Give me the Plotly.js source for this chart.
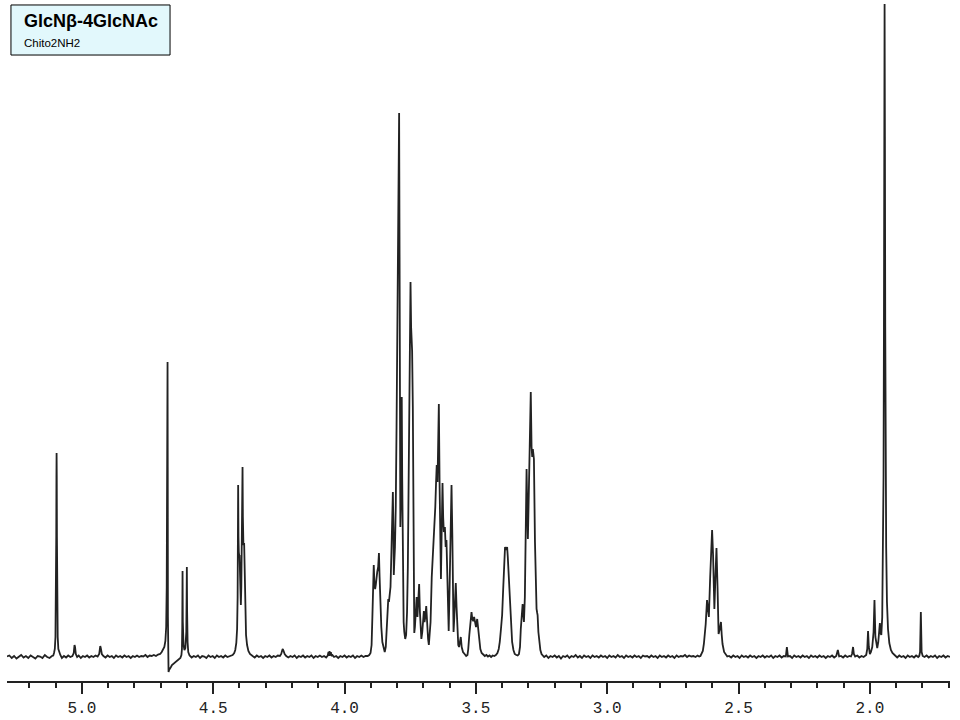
<!DOCTYPE html>
<html>
<head>
<meta charset="utf-8">
<script src="https://cdn.plot.ly/plotly-3.0.1.min.js"></script>
<style>
  html, body { margin: 0; padding: 0; background: #fff; }
  #chart { width: 960px; height: 720px; }
</style>
</head>
<body>
<div id="chart"></div>
<script>
// trace, [shift (ppm), intensity above baseline]
// intensity unit: roughly one pixel of the original plot

const anomericRegion = [
  [5.285, 0.5], [5.276, 1.5], [5.267, -1], [5.258, 1], [5.249, -1.5], [5.240, 0.5], [5.231, 2],
  [5.222, -0.5], [5.213, 1], [5.204, -1], [5.195, 1.5], [5.186, 0], [5.177, -1.5], [5.168, 1],
  [5.159, 0.5], [5.150, -1], [5.141, 2], [5.132, 0], [5.123, -1], [5.114, 1], [5.109, 1.5],
  [5.106, 4], [5.103, 8], [5.1005, 20], [5.0985, 60], [5.0975, 120], [5.0968, 180], [5.0962, 204],
  [5.0956, 180], [5.0949, 120], [5.0939, 60], [5.092, 20], [5.0895, 8], [5.086, 4], [5.082, 2],
  [5.076, -1], [5.068, 1], [5.060, -0.5], [5.052, 1.5], [5.044, 0], [5.036, 1], [5.031, 4],
  [5.028, 12], [5.026, 10], [5.023, 3], [5.018, 0], [5.012, 1.5], [5.004, -1], [4.996, 1],
  [4.988, 0], [4.980, 1.5], [4.972, -0.5], [4.964, 1], [4.956, 0], [4.948, 1.5], [4.940, 0.5],
  [4.934, 3], [4.930, 11], [4.928, 9], [4.924, 3], [4.918, 1], [4.910, -0.5], [4.902, 1.5],
  [4.894, 0], [4.886, 1], [4.878, -1], [4.870, 1.5], [4.862, 0], [4.854, 1], [4.846, -0.5],
  [4.838, 1.5], [4.830, 0], [4.822, 1], [4.814, -1], [4.806, 1], [4.798, 0], [4.790, 1.5],
  [4.782, 0], [4.774, 1], [4.766, 0.5], [4.758, 2], [4.750, 0], [4.742, 1.5], [4.734, 1],
  [4.726, 2], [4.718, 1], [4.710, 2.5], [4.702, 3]
];

// HOD line with its dispersive dip, then the 4.61 doublet
const waterRegion = [
  [4.696, 5], [4.691, 7], [4.686, 10], [4.682, 16], [4.679, 30], [4.677, 70], [4.6755, 160],
  [4.6745, 260], [4.6738, 295], [4.6731, 190], [4.6724, 40], [4.6716, -8], [4.670, -15],
  [4.668, -13], [4.665, -12], [4.661, -10], [4.657, -8], [4.652, -7], [4.647, -6], [4.642, -5],
  [4.636, -4], [4.630, -2], [4.625, -1], [4.621, 2], [4.619, 8], [4.6178, 30], [4.6167, 86],
  [4.6156, 35], [4.613, 12], [4.6095, 7], [4.606, 9], [4.6025, 25], [4.6012, 60], [4.6003, 90],
  [4.5993, 45], [4.5975, 15], [4.595, 5], [4.590, 1.5], [4.582, -0.5], [4.574, 1], [4.566, 0],
  [4.558, 1.5], [4.550, -1], [4.542, 1], [4.534, 0.5], [4.526, -1], [4.518, 1.5], [4.510, 0],
  [4.502, 1], [4.494, -1], [4.486, 1.5], [4.478, 0], [4.470, 1], [4.462, -0.5], [4.454, 1.5],
  [4.446, 0], [4.438, 1], [4.432, 1.5]
];

const h2Region = [
  [4.426, 2], [4.420, 4], [4.416, 7], [4.412, 14], [4.409, 28], [4.407, 60], [4.4058, 120],
  [4.405, 172], [4.4038, 120], [4.4025, 105], [4.4005, 100], [4.3997, 102], [4.398, 85],
  [4.396, 62], [4.3947, 52], [4.393, 70], [4.3905, 120], [4.3895, 165], [4.3883, 190],
  [4.387, 140], [4.385, 112], [4.3822, 114], [4.380, 70], [4.3775, 38], [4.375, 22],
  [4.371, 12], [4.366, 6], [4.360, 3], [4.355, 1.5], [4.350, 1], [4.342, -0.5], [4.334, 1.5],
  [4.326, 0], [4.318, 1], [4.310, -1], [4.302, 1], [4.294, 0], [4.286, 1.5], [4.278, -0.5],
  [4.270, 1], [4.262, 0], [4.254, 1.5], [4.246, 1], [4.241, 3], [4.237, 7], [4.235, 8],
  [4.232, 6], [4.228, 3], [4.222, 1], [4.214, -0.5], [4.206, 1], [4.198, 0], [4.190, 1.5],
  [4.182, -1], [4.174, 1], [4.166, 0], [4.158, 1.5], [4.150, -0.5], [4.142, 1], [4.134, 0],
  [4.126, 1.5], [4.118, -1], [4.110, 1], [4.102, 0], [4.094, 1.5], [4.086, 0], [4.078, 1],
  [4.070, -0.5], [4.064, 1.5], [4.061, 5], [4.059, 1], [4.057, 6], [4.055, 1.5], [4.052, 5],
  [4.050, 1], [4.046, 2], [4.040, 0], [4.032, 1], [4.024, -1], [4.016, 1], [4.008, 0],
  [4.000, 1.5], [3.992, -0.5], [3.984, 1], [3.976, 0], [3.968, 1.5], [3.960, -1], [3.952, 1],
  [3.944, 0], [3.936, 1.5], [3.928, 0], [3.920, 1]
];

// crowded ring proton envelope 3.90 - 3.54
const ringRegion = [
  [3.912, 1], [3.906, 2], [3.901, 4], [3.897, 12], [3.894, 40], [3.891, 75], [3.8888, 92],
  [3.886, 72], [3.8835, 68], [3.881, 72], [3.878, 82], [3.8755, 85], [3.872, 90], [3.869, 104],
  [3.8665, 80], [3.864, 55], [3.860, 30], [3.856, 15], [3.851, 7], [3.847, 5], [3.843, 10],
  [3.840, 25], [3.8365, 45], [3.8335, 58], [3.831, 55], [3.828, 65], [3.825, 70], [3.8215, 105],
  [3.8185, 140], [3.816, 165], [3.8135, 120], [3.8125, 82], [3.8105, 95], [3.808, 110],
  [3.805, 150], [3.802, 230], [3.799, 330], [3.796, 430], [3.7935, 520], [3.7922, 544],
  [3.7905, 400], [3.789, 250], [3.7875, 130], [3.786, 150], [3.7835, 240], [3.7822, 260],
  [3.7805, 180], [3.778, 80], [3.775, 35], [3.7725, 25], [3.769, 18], [3.7655, 22], [3.762, 45],
  [3.759, 90], [3.7565, 150], [3.7535, 240], [3.751, 330], [3.7488, 375], [3.7465, 330],
  [3.7427, 306], [3.740, 250], [3.738, 160], [3.736, 60], [3.7345, 24], [3.732, 30], [3.729, 40],
  [3.7255, 60], [3.7225, 40], [3.716, 73], [3.713, 45], [3.7105, 30], [3.7075, 18], [3.704, 25],
  [3.701, 35], [3.698, 46], [3.6955, 35], [3.6925, 40], [3.689, 51], [3.6855, 30], [3.682, 18],
  [3.679, 12], [3.676, 20], [3.6725, 35], [3.668, 80], [3.664, 100], [3.660, 110], [3.6565, 135],
  [3.6545, 150], [3.6515, 175], [3.649, 192], [3.646, 175], [3.6435, 200], [3.641, 253],
  [3.638, 170], [3.6355, 120], [3.633, 78], [3.6305, 120], [3.627, 174], [3.6245, 140],
  [3.622, 125], [3.618, 130], [3.615, 110], [3.612, 117], [3.609, 80], [3.606, 45], [3.6035, 26],
  [3.600, 70], [3.5965, 140], [3.5927, 172], [3.5895, 120], [3.5875, 70], [3.585, 25],
  [3.582, 40], [3.5785, 65], [3.5765, 74], [3.5735, 50], [3.5705, 30], [3.567, 12], [3.564, 10],
  [3.5605, 18], [3.5575, 20], [3.554, 10], [3.549, 5], [3.543, 3], [3.537, 1]
];

const upfieldRingRegion = [
  [3.532, 2], [3.529, 8], [3.525, 22], [3.5205, 38], [3.5166, 45], [3.5135, 38], [3.510, 36],
  [3.5067, 40], [3.503, 33], [3.4995, 30], [3.495, 38], [3.491, 25], [3.487, 14], [3.483, 8],
  [3.478, 4], [3.472, 2], [3.466, 1], [3.460, 2], [3.454, 0.5], [3.448, 1.5], [3.442, 0],
  [3.436, 1.5], [3.430, 1], [3.424, 2], [3.418, 4], [3.413, 8], [3.409, 15], [3.4045, 28],
  [3.400, 42], [3.396, 68], [3.392, 95], [3.389, 110], [3.385, 107], [3.381, 110], [3.3785, 100],
  [3.376, 88], [3.373, 68], [3.370, 48], [3.366, 28], [3.362, 15], [3.357, 7], [3.352, 3],
  [3.346, 2], [3.341, 1.5], [3.336, 3], [3.332, 10], [3.329, 28], [3.3255, 42], [3.322, 53],
  [3.319, 42], [3.317, 35], [3.3135, 60], [3.310, 140], [3.307, 188], [3.3045, 150], [3.302, 118],
  [3.2995, 150], [3.297, 182], [3.294, 220], [3.291, 265], [3.288, 210], [3.2855, 200],
  [3.283, 208], [3.279, 198], [3.275, 115], [3.272, 70], [3.269, 48], [3.2665, 44], [3.265, 42],
  [3.262, 25], [3.259, 15], [3.2545, 7], [3.250, 3], [3.245, 1.5]
];

const emptyRegion = [
  [3.240, 0], [3.232, 1.5], [3.224, -1], [3.216, 1], [3.208, 0], [3.200, 1.5], [3.192, -0.5],
  [3.184, 1], [3.176, -1.5], [3.168, 1], [3.160, 0], [3.152, 1.5], [3.144, -1], [3.136, 1],
  [3.128, 0], [3.120, 2], [3.112, -0.5], [3.104, 1], [3.096, -1], [3.088, 1.5], [3.080, 0],
  [3.072, 1], [3.064, -1], [3.056, 1.5], [3.048, 0], [3.040, 1], [3.032, -0.5], [3.024, 1.5],
  [3.016, 0], [3.008, 1], [3.000, -1], [2.992, 1.5], [2.984, 0], [2.976, 1], [2.968, -0.5],
  [2.960, 2], [2.952, 0], [2.944, 1], [2.936, -1], [2.928, 1.5], [2.920, 0], [2.912, 1],
  [2.904, -0.5], [2.896, 1.5], [2.888, 0], [2.880, 1], [2.872, -1], [2.864, 1.5], [2.856, 0.5],
  [2.848, 1], [2.840, -0.5], [2.832, 1.5], [2.824, 0], [2.816, 1], [2.808, -1], [2.800, 1.5],
  [2.792, 0], [2.784, 1], [2.776, -0.5], [2.768, 1.5], [2.760, 0], [2.752, 1], [2.744, -1],
  [2.736, 1.5], [2.728, 0], [2.720, 1], [2.712, 0.5], [2.704, 2], [2.696, 0], [2.688, 1.5],
  [2.680, 0.5], [2.672, 1], [2.664, 0], [2.656, 1.5], [2.650, 0.5]
];

// H-2 of the GlcN residue
const h2AmineRegion = [
  [2.645, 1], [2.641, 3], [2.636, 6], [2.632, 13], [2.6285, 22], [2.625, 33], [2.620, 57],
  [2.6165, 45], [2.613, 40], [2.608, 80], [2.604, 110], [2.6007, 127], [2.597, 102], [2.5945, 70],
  [2.592, 48], [2.588, 80], [2.584, 109], [2.580, 70], [2.576, 23], [2.5715, 28], [2.567, 35],
  [2.564, 22], [2.561, 13], [2.555, 5], [2.549, 2], [2.543, 0.5], [2.536, 1], [2.528, -0.5],
  [2.520, 1.5], [2.512, 0], [2.504, 1], [2.496, -1], [2.488, 1.5], [2.480, 0], [2.472, 1],
  [2.464, -0.5], [2.456, 1.5], [2.448, 0], [2.440, 1], [2.432, -1], [2.424, 1], [2.416, 0],
  [2.408, 1.5], [2.400, -0.5], [2.392, 1], [2.384, 0], [2.376, 1.5], [2.368, -1], [2.360, 1],
  [2.352, 0], [2.344, 1.5], [2.336, -0.5], [2.328, 1], [2.320, 0.5], [2.316, 10], [2.312, 0.5],
  [2.304, 1], [2.296, -1], [2.288, 1.5], [2.280, 0], [2.272, 1], [2.264, -0.5], [2.256, 1.5],
  [2.248, 0], [2.240, 1], [2.232, -1], [2.224, 1.5], [2.216, 0], [2.208, 1], [2.200, -0.5],
  [2.192, 1.5], [2.184, 0], [2.176, 1], [2.168, -1], [2.160, 1], [2.152, 0], [2.144, 1.5],
  [2.136, -0.5], [2.128, 1], [2.122, 7], [2.117, 0.5], [2.110, 1], [2.102, -0.5], [2.094, 1.5],
  [2.086, 0], [2.078, 1], [2.072, 0.5], [2.068, 3], [2.064, 10], [2.061, 3], [2.056, 0.5],
  [2.048, 1.5], [2.040, -0.5], [2.032, 1], [2.024, 0]
];

// N-acetyl methyl and neighbours
const acetylRegion = [
  [2.020, 1], [2.014, 2], [2.010, 8], [2.007, 26], [2.004, 10], [2.000, 3], [1.996, 5],
  [1.991, 10], [1.986, 25], [1.9825, 57], [1.979, 20], [1.975, 10], [1.972, 9], [1.968, 15],
  [1.965, 25], [1.962, 34], [1.9595, 24], [1.9565, 22], [1.953, 40], [1.950, 95], [1.948, 180],
  [1.9465, 330], [1.9452, 520], [1.944, 653], [1.9428, 520], [1.9415, 330], [1.940, 200],
  [1.938, 110], [1.935, 55], [1.931, 28], [1.926, 14], [1.920, 7], [1.914, 4], [1.908, 2],
  [1.902, 1], [1.896, -0.5], [1.888, 1.5], [1.880, 0], [1.872, 1], [1.864, -1], [1.856, 1.5],
  [1.848, 0], [1.840, 1], [1.832, -0.5], [1.824, 1.5], [1.816, 0], [1.812, 1], [1.809, 5],
  [1.806, 45], [1.803, 5], [1.799, 1], [1.792, 0], [1.784, 1.5], [1.776, -0.5], [1.768, 1],
  [1.760, 0], [1.752, 1.5], [1.744, -1], [1.736, 1], [1.728, 0], [1.720, 1.5], [1.712, -0.5],
  [1.704, 1], [1.695, 0]
];

const majorTicks = [5.0, 4.5, 4.0, 3.5, 3.0, 2.5, 2.0];
const tickLabels = ['5.0', '4.5', '4.0', '3.5', '3.0', '2.5', '2.0'];
const compoundName = 'GlcNβ-4GlcNAc';
const compoundCode = 'Chito2NH2';

const points = [].concat(
  anomericRegion, waterRegion, h2Region, ringRegion,
  upfieldRingRegion, emptyRegion, h2AmineRegion, acetylRegion
).sort((a, b) => b[0] - a[0]);

const shifts = points.map(p => p[0]);
const intensities = points.map(p => p[1]);

const ink = '#222';

Plotly.newPlot('chart', [{
  type: 'scatter',
  mode: 'lines',
  x: shifts,
  y: intensities,
  line: {color: ink, width: 1.8},
  hoverinfo: 'skip',
}], {
  width: 960,
  height: 720,
  margin: {l: 7, r: 10, t: 0, b: 39},
  paper_bgcolor: '#fff',
  plot_bgcolor: '#fff',
  showlegend: false,
  xaxis: {
    range: [5.285, 1.695],
    showgrid: false,
    zeroline: false,
    showline: true,
    linecolor: ink,
    linewidth: 2,
    ticks: 'outside',
    ticklen: 11,
    tickwidth: 2,
    tickcolor: ink,
    tickmode: 'array',
    tickvals: majorTicks,
    ticktext: tickLabels,
    tickfont: {family: '"Liberation Mono", "Courier New", monospace', size: 16, color: ink},
    minor: {dtick: 0.1, tick0: 0, ticks: 'outside', ticklen: 5, tickwidth: 2, tickcolor: ink},
    fixedrange: true,
  },
  yaxis: {
    range: [-24, 657],
    visible: false,
    fixedrange: true,
  },
  shapes: [{
    type: 'rect',
    xref: 'paper', yref: 'paper',
    x0: 0.0042, x1: 0.1729, y0: 0.9192, y1: 0.9927,
    fillcolor: '#e2f8fc',
    line: {color: '#000', width: 1},
  }],
  annotations: [{
    xref: 'paper', yref: 'paper',
    x: 0.0159, y: 0.9685,
    xanchor: 'left', yanchor: 'middle',
    text: '<b>' + compoundName + '</b>',
    showarrow: false,
    font: {family: '"Liberation Sans", Arial, sans-serif', size: 18, color: '#000'},
  }, {
    xref: 'paper', yref: 'paper',
    x: 0.0159, y: 0.9369,
    xanchor: 'left', yanchor: 'middle',
    text: compoundCode,
    showarrow: false,
    font: {family: '"Liberation Sans", Arial, sans-serif', size: 11.5, color: '#000'},
  }],
}, {displayModeBar: false, staticPlot: true});
</script>
</body>
</html>
